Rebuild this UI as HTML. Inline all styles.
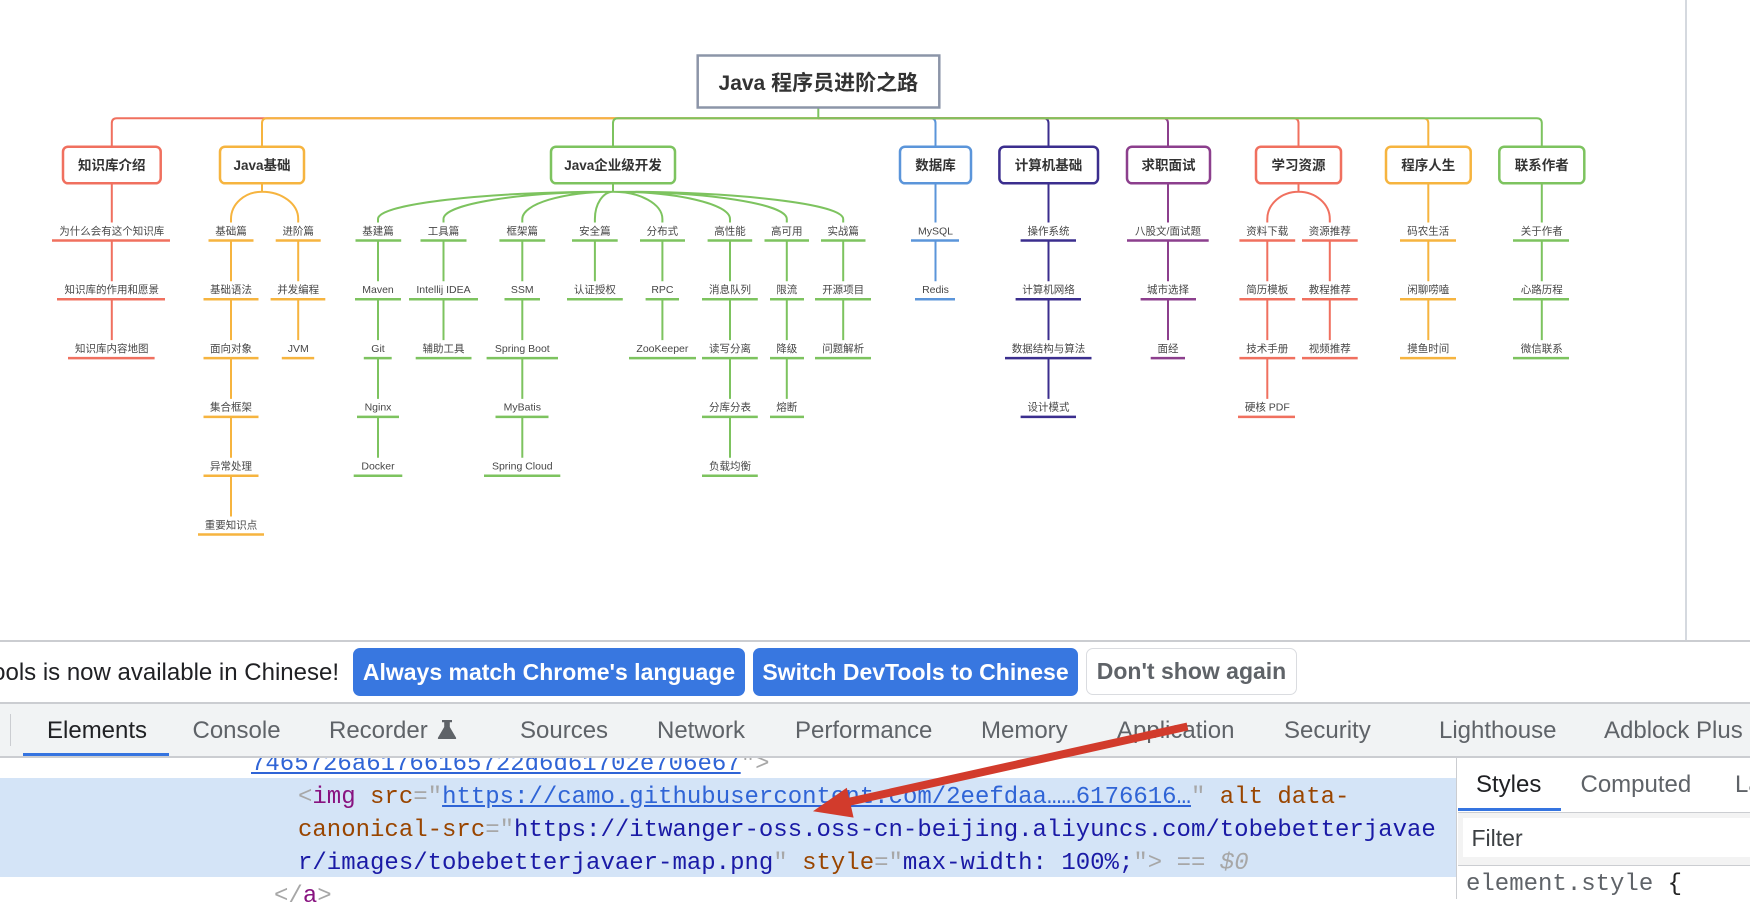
<!DOCTYPE html>
<html><head><meta charset="utf-8">
<style>
html,body{margin:0;padding:0;background:#fff}
body{width:1750px;height:898px;position:relative;overflow:hidden;font-family:"Liberation Sans",Arial,"Noto Sans CJK SC",sans-serif}
.a{position:absolute;white-space:pre}
.tab{position:absolute;top:718.7px;font-size:24px;line-height:24px;color:#5f6368;white-space:pre}
.code{position:absolute;font-family:"Liberation Mono","DejaVu Sans Mono",monospace;font-size:24px;line-height:24px;white-space:pre;color:#1a1aa6}
.g{color:#a7a7a7}.p{color:#881280}.br{color:#994500}.nv{color:#1a1aa6}.lk{color:#2f64d6;text-decoration:underline}
.btn{position:absolute;top:648px;height:48px;border-radius:7px;background:#3877e0;color:#fff;font-weight:bold;font-size:23px;line-height:48px;text-align:center;white-space:pre}
</style></head><body>

<svg id="mm" width="1750" height="641" style="position:absolute;left:0;top:0">
<style>
#mm .l{font:10.5px "Liberation Sans","Noto Sans CJK SC",sans-serif;fill:#474747;text-anchor:middle}
#mm .b{font:bold 13.5px "Liberation Sans","Noto Sans CJK SC",sans-serif;fill:#333;text-anchor:middle}
#mm path{fill:none}
</style>
<line x1="1686" y1="0" x2="1686" y2="641" stroke="#d5d9df" stroke-width="2"/>
<!-- bus -->
<g stroke-width="2">
<path d="M818.3 118.3H116.8Q111.8 118.3 111.8 123.3V146.7" stroke="#f0705f"/>
<path d="M818.3 118.3H267Q262 118.3 262 123.3V146.7" stroke="#f6b43f"/>
<path d="M818.3 118.3H618Q613 118.3 613 123.3V146.7" stroke="#7dc35f"/>
<path d="M818.3 118.3H930.5Q935.5 118.3 935.5 123.3V146.7" stroke="#5b95da"/>
<path d="M818.3 118.3H1043.5Q1048.5 118.3 1048.5 123.3V146.7" stroke="#3b2e8e"/>
<path d="M818.3 118.3H1163Q1168 118.3 1168 123.3V146.7" stroke="#8c3f8d"/>
<path d="M818.3 118.3H1293.5Q1298.5 118.3 1298.5 123.3V146.7" stroke="#f0705f"/>
<path d="M818.3 118.3H1423.3Q1428.3 118.3 1428.3 123.3V146.7" stroke="#f6b43f"/>
<path d="M818.3 118.3H1536.8Q1541.8 118.3 1541.8 123.3V146.7" stroke="#7dc35f"/>
<path d="M818.3 107V118.3" stroke="#7dc35f"/>
</g>
<!-- main box -->
<rect x="697.7" y="55.5" width="241.6" height="52" fill="#fff" stroke="#8c95a8" stroke-width="2.5"/>
<text x="818.3" y="90" style="font:bold 21px 'Liberation Sans','Noto Sans CJK SC',sans-serif;fill:#333;text-anchor:middle">Java 程序员进阶之路</text>

<!-- RED -->
<g stroke="#f0705f">
<path stroke-width="2" d="M111.8 183.3V222.5M111.8 240.5V281.3M111.8 299.3V340.1M1298.5 183.3V191.7M1298.5 191.7C1281.3 191.7 1267.3 204 1267.3 219V222.5M1298.5 191.7C1315.7 191.7 1329.8 204 1329.8 219V222.5M1267.3 240.5V281.3M1267.3 299.3V340.1M1267.3 358.1V398.9M1329.8 240.5V281.3M1329.8 299.3V340.1"/>
<path stroke-width="2.5" d="M52 240.5H170M57 299.3H165M68 358.1H154.6M1239.4 240.5H1295.2M1239.4 299.3H1295.2M1239.4 358.1H1295.2M1238 416.9H1295M1302 240.5H1357.7M1302 299.3H1357.7M1302 358.1H1357.7"/>
<rect x="63" y="146.7" width="97.7" height="36.6" rx="5" fill="#fff" stroke-width="2.5"/>
<rect x="1256" y="146.7" width="85" height="36.6" rx="5" fill="#fff" stroke-width="2.5"/>
</g>
<text class="b" x="111.8" y="170">知识库介绍</text>
<text class="b" x="1298.5" y="170">学习资源</text>
<text class="l" x="111.8" y="234.3">为什么会有这个知识库</text>
<text class="l" x="111.8" y="293.1">知识库的作用和愿景</text>
<text class="l" x="111.8" y="351.9">知识库内容地图</text>
<text class="l" x="1267.3" y="234.3">资料下载</text>
<text class="l" x="1267.3" y="293.1">简历模板</text>
<text class="l" x="1267.3" y="351.9">技术手册</text>
<text class="l" x="1267.3" y="410.7">硬核 PDF</text>
<text class="l" x="1329.8" y="234.3">资源推荐</text>
<text class="l" x="1329.8" y="293.1">教程推荐</text>
<text class="l" x="1329.8" y="351.9">视频推荐</text>

<!-- ORANGE -->
<g stroke="#f6b43f">
<path stroke-width="2" d="M262 183.3V191.7M262 191.7C244.7 191.7 231 204 231 219V222.5M262 191.7C282.1 191.7 298.2 204 298.2 219V222.5M231 240.5V281.3M231 299.3V340.1M231 358.1V398.9M231 416.9V457.7M231 475.7V516.5M298.2 240.5V281.3M298.2 299.3V340.1M1428.3 183.3V222.5M1428.3 240.5V281.3M1428.3 299.3V340.1"/>
<path stroke-width="2.5" d="M208.5 240.5H253.5M203.5 299.3H258.5M203.5 358.1H258.5M203.5 416.9H258.5M203.5 475.7H258.5M198 534.5H264M275.7 240.5H320.7M270.6 299.3H325.3M281.8 358.1H314.2M1400 240.5H1456M1400 299.3H1456M1400 358.1H1456"/>
<rect x="220" y="146.7" width="84" height="36.6" rx="5" fill="#fff" stroke-width="2.5"/>
<rect x="1386" y="146.7" width="84.7" height="36.6" rx="5" fill="#fff" stroke-width="2.5"/>
</g>
<text class="b" x="262" y="170">Java基础</text>
<text class="b" x="1428.3" y="170">程序人生</text>
<text class="l" x="231" y="234.3">基础篇</text>
<text class="l" x="231" y="293.1">基础语法</text>
<text class="l" x="231" y="351.9">面向对象</text>
<text class="l" x="231" y="410.7">集合框架</text>
<text class="l" x="231" y="469.5">异常处理</text>
<text class="l" x="231" y="528.3">重要知识点</text>
<text class="l" x="298.2" y="234.3">进阶篇</text>
<text class="l" x="298.2" y="293.1">并发编程</text>
<text class="l" x="298.2" y="351.9">JVM</text>
<text class="l" x="1428.3" y="234.3">码农生活</text>
<text class="l" x="1428.3" y="293.1">闲聊唠嗑</text>
<text class="l" x="1428.3" y="351.9">摸鱼时间</text>

<!-- GREEN -->
<g stroke="#7dc35f">
<path stroke-width="2" d="M613 183.3V191.7
M613 191.7C483.6 191.7 378 204 378 219V222.5
M613 191.7C519.8 191.7 443.5 204 443.5 219V222.5
M613 191.7C563.1 191.7 522.3 204 522.3 219V222.5
M613 191.7C603 191.7 594.9 204 594.9 219V222.5
M613 191.7C640.2 191.7 662.4 204 662.4 219V222.5
M613 191.7C677.4 191.7 730 204 730 219V222.5
M613 191.7C708.6 191.7 786.8 204 786.8 219V222.5
M613 191.7C739.6 191.7 843.2 204 843.2 219V222.5
M378 240.5V281.3M378 299.3V340.1M378 358.1V398.9M378 416.9V457.7
M443.5 240.5V281.3M443.5 299.3V340.1
M522.3 240.5V281.3M522.3 299.3V340.1M522.3 358.1V398.9M522.3 416.9V457.7
M594.9 240.5V281.3
M662.4 240.5V281.3M662.4 299.3V340.1
M730 240.5V281.3M730 299.3V340.1M730 358.1V398.9M730 416.9V457.7
M786.8 240.5V281.3M786.8 299.3V340.1M786.8 358.1V398.9
M843.2 240.5V281.3M843.2 299.3V340.1
M1541.8 183.3V222.5M1541.8 240.5V281.3M1541.8 299.3V340.1"/>
<path stroke-width="2.5" d="M355.5 240.5H401.2M355 299.3H401M363.8 358.1H391.7M357 416.9H399M353.7 475.7H402.3
M420.5 240.5H466.5M409 299.3H478M415.7 358.1H471.5
M499.4 240.5H545.2M504.5 299.3H540M486.6 358.1H558M495.5 416.9H548.5M484 475.7H560.3
M572 240.5H617.7M567 299.3H622.8
M640 240.5H685M645.6 299.3H679M629 358.1H696
M707.6 240.5H752.2M702 299.3H757.8M702 358.1H757.8M702 416.9H757.8M702 475.7H757.8
M764.5 240.5H809M770 299.3H804M770 358.1H804M770 416.9H804
M821 240.5H865.5M815 299.3H871M815 358.1H871
M1513 240.5H1569M1513 299.3H1569M1513 358.1H1569"/>
<rect x="551" y="146.7" width="124" height="36.6" rx="5" fill="#fff" stroke-width="2.5"/>
<rect x="1499.3" y="146.7" width="85" height="36.6" rx="5" fill="#fff" stroke-width="2.5"/>
</g>
<text class="b" x="613" y="170">Java企业级开发</text>
<text class="b" x="1541.8" y="170">联系作者</text>
<text class="l" x="378" y="234.3">基建篇</text>
<text class="l" x="378" y="293.1">Maven</text>
<text class="l" x="378" y="351.9">Git</text>
<text class="l" x="378" y="410.7">Nginx</text>
<text class="l" x="378" y="469.5">Docker</text>
<text class="l" x="443.5" y="234.3">工具篇</text>
<text class="l" x="443.5" y="293.1">Intellij IDEA</text>
<text class="l" x="443.5" y="351.9">辅助工具</text>
<text class="l" x="522.3" y="234.3">框架篇</text>
<text class="l" x="522.3" y="293.1">SSM</text>
<text class="l" x="522.3" y="351.9">Spring Boot</text>
<text class="l" x="522.3" y="410.7">MyBatis</text>
<text class="l" x="522.3" y="469.5">Spring Cloud</text>
<text class="l" x="594.9" y="234.3">安全篇</text>
<text class="l" x="594.9" y="293.1">认证授权</text>
<text class="l" x="662.4" y="234.3">分布式</text>
<text class="l" x="662.4" y="293.1">RPC</text>
<text class="l" x="662.4" y="351.9">ZooKeeper</text>
<text class="l" x="730" y="234.3">高性能</text>
<text class="l" x="730" y="293.1">消息队列</text>
<text class="l" x="730" y="351.9">读写分离</text>
<text class="l" x="730" y="410.7">分库分表</text>
<text class="l" x="730" y="469.5">负载均衡</text>
<text class="l" x="786.8" y="234.3">高可用</text>
<text class="l" x="786.8" y="293.1">限流</text>
<text class="l" x="786.8" y="351.9">降级</text>
<text class="l" x="786.8" y="410.7">熔断</text>
<text class="l" x="843.2" y="234.3">实战篇</text>
<text class="l" x="843.2" y="293.1">开源项目</text>
<text class="l" x="843.2" y="351.9">问题解析</text>
<text class="l" x="1541.8" y="234.3">关于作者</text>
<text class="l" x="1541.8" y="293.1">心路历程</text>
<text class="l" x="1541.8" y="351.9">微信联系</text>

<!-- BLUE -->
<g stroke="#5b95da">
<path stroke-width="2" d="M935.5 183.3V222.5M935.5 240.5V281.3"/>
<path stroke-width="2.5" d="M911 240.5H959M915 299.3H955"/>
<rect x="900" y="146.7" width="71" height="36.6" rx="5" fill="#fff" stroke-width="2.5"/>
</g>
<text class="b" x="935.5" y="170">数据库</text>
<text class="l" x="935.5" y="234.3">MySQL</text>
<text class="l" x="935.5" y="293.1">Redis</text>

<!-- NAVY -->
<g stroke="#3b2e8e">
<path stroke-width="2" d="M1048.5 183.3V222.5M1048.5 240.5V281.3M1048.5 299.3V340.1M1048.5 358.1V398.9"/>
<path stroke-width="2.5" d="M1020.6 240.5H1076M1015.6 299.3H1081M1005 358.1H1091.5M1020.6 416.9H1076"/>
<rect x="999.4" y="146.7" width="98.6" height="36.6" rx="5" fill="#fff" stroke-width="2.5"/>
</g>
<text class="b" x="1048.5" y="170">计算机基础</text>
<text class="l" x="1048.5" y="234.3">操作系统</text>
<text class="l" x="1048.5" y="293.1">计算机网络</text>
<text class="l" x="1048.5" y="351.9">数据结构与算法</text>
<text class="l" x="1048.5" y="410.7">设计模式</text>

<!-- PURPLE -->
<g stroke="#8c3f8d">
<path stroke-width="2" d="M1168 183.3V222.5M1168 240.5V281.3M1168 299.3V340.1"/>
<path stroke-width="2.5" d="M1127 240.5H1208.7M1140.6 299.3H1196M1150.7 358.1H1185"/>
<rect x="1127" y="146.7" width="83" height="36.6" rx="5" fill="#fff" stroke-width="2.5"/>
</g>
<text class="b" x="1168.5" y="170">求职面试</text>
<text class="l" x="1168" y="234.3">八股文/面试题</text>
<text class="l" x="1168" y="293.1">城市选择</text>
<text class="l" x="1168" y="351.9">面经</text>
</svg>

<!-- Elements code panel -->
<div class="a" style="left:0;top:778px;width:1456px;height:99px;background:#d4e4f7"></div>
<div class="code" style="left:251px;top:752.6px"><span class="lk">7465726a61766165722d6d61702e706e67</span><span class="g">"&gt;</span></div>
<div class="code" style="left:298px;top:785.6px"><span class="g">&lt;</span><span class="p">img</span> <span class="br">src</span><span class="g">="</span><span class="lk">https://camo.githubusercontent.com/2eefdaa……6176616…</span><span class="g">"</span> <span class="br">alt data-</span></div>
<div class="code" style="left:298px;top:818.6px"><span class="br">canonical-src</span><span class="g">="</span><span class="nv">https://itwanger-oss.oss-cn-beijing.aliyuncs.com/tobebetterjavae</span></div>
<div class="code" style="left:298px;top:851.6px"><span class="nv">r/images/tobebetterjavaer-map.png</span><span class="g">"</span> <span class="br">style</span><span class="g">="</span><span class="nv">max-width: 100%;</span><span class="g">"&gt;</span> <span class="g">== <i>$0</i></span></div>
<div class="code" style="left:274px;top:884.6px"><span class="g">&lt;/</span><span class="p">a</span><span class="g">&gt;</span></div>

<!-- infobar -->
<div class="a" style="left:0;top:640px;width:1750px;height:1.5px;background:#cbcdd1"></div>
<div class="a" style="left:0;top:641.5px;width:1750px;height:61px;background:#fff"></div>
<div class="a" style="left:-300px;top:660.7px;width:639px;text-align:right;font-size:24px;line-height:24px;color:#202124">DevTools is now available in Chinese!</div>
<div class="btn" style="left:353px;width:392px">Always match Chrome's language</div>
<div class="btn" style="left:753px;width:325px">Switch DevTools to Chinese</div>
<div class="btn" style="left:1086px;width:209px;height:45px;line-height:45px;background:#fff;border:1.5px solid #dadce0;color:#5f6368">Don't show again</div>
<div class="a" style="left:0;top:702px;width:1750px;height:1.5px;background:#cbcdd1"></div>

<!-- tab bar -->
<div class="a" style="left:0;top:703.5px;width:1750px;height:52.5px;background:#f1f3f4"></div>
<div class="a" style="left:0;top:756px;width:1750px;height:1.5px;background:#cbcdd1"></div>
<div class="a" style="left:9.5px;top:714px;width:1.5px;height:32px;background:#cbcdd1"></div>
<div class="tab" style="left:47px;color:#202124">Elements</div>
<div class="a" style="left:23px;top:752.5px;width:146px;height:3.5px;background:#3574e0"></div>
<div class="tab" style="left:192.5px">Console</div>
<div class="tab" style="left:329px">Recorder</div>
<svg class="a" style="left:437px;top:719px" width="20" height="21"><path d="M5 1H15V3.2H12.8V8L19 18.6Q19.6 20 18.2 20H1.8Q0.4 20 1 18.6L7.2 8V3.2H5Z" style="fill:#5f6368"/></svg>
<div class="tab" style="left:520px">Sources</div>
<div class="tab" style="left:657px">Network</div>
<div class="tab" style="left:795px">Performance</div>
<div class="tab" style="left:981px">Memory</div>
<div class="tab" style="left:1117px">Application</div>
<div class="tab" style="left:1284px">Security</div>
<div class="tab" style="left:1439px">Lighthouse</div>
<div class="tab" style="left:1604px">Adblock Plus</div>

<!-- styles panel -->
<div class="a" style="left:1456px;top:757.5px;width:294px;height:141px;background:#fff;border-left:1.5px solid #cbcdd1"></div>
<div class="tab" style="left:1476px;top:772.7px;color:#202124">Styles</div>
<div class="tab" style="left:1580.5px;top:772.7px">Computed</div>
<div class="tab" style="left:1735px;top:772.7px">La</div>
<div class="a" style="left:1457.5px;top:807.5px;width:103.5px;height:3.5px;background:#3574e0"></div>
<div class="a" style="left:1457.5px;top:811.5px;width:293px;height:1.5px;background:#cbcdd1"></div>
<div class="a" style="left:1457.5px;top:813px;width:293px;height:52px;background:#f3f3f3"></div>
<div class="a" style="left:1463px;top:818px;width:290px;height:39px;background:#fff"></div>
<div class="a" style="left:1471.5px;top:827.2px;font-size:23px;line-height:23px;color:#3c4043">Filter</div>
<div class="a" style="left:1457.5px;top:864.5px;width:293px;height:1.5px;background:#cbcdd1"></div>
<div class="code" style="left:1466px;top:872.6px;color:#5f6368">element.style <span style="color:#222">{</span></div>

<!-- red arrow -->
<svg class="a" style="left:0;top:0;pointer-events:none" width="1750" height="898">
<line x1="1187.5" y1="726.5" x2="849" y2="801.8" stroke="#d23b2c" stroke-width="8"/>
<polygon points="813,811.2 846.8,787.8 853.6,817.6" style="fill:#d23b2c"/>
</svg>
</body></html>
